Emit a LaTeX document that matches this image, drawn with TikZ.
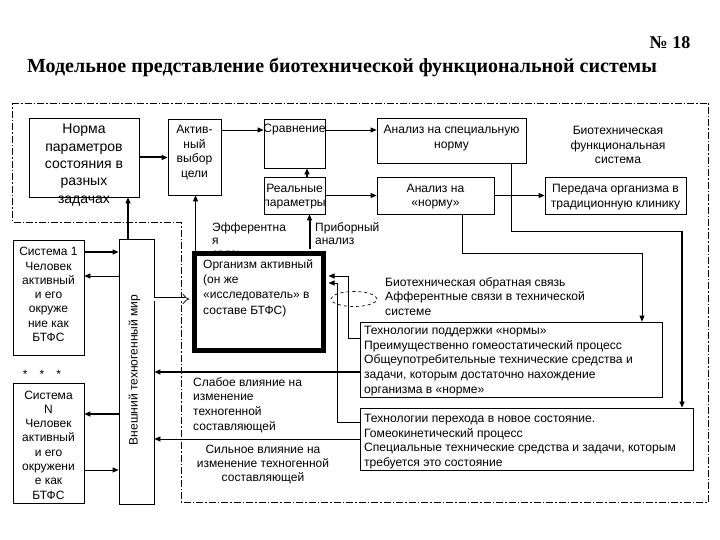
\documentclass[tikz,border=0pt]{standalone}
\usepackage{fontspec}
\setmainfont{Liberation Sans}
\newfontfamily\serifbf{Liberation Serif}
\usetikzlibrary{arrows.meta,shapes.geometric,calc}
\newcommand\fsA{\fontsize{12.1}{14.6}\selectfont}
\newcommand\fsB{\fontsize{12}{14.3}\selectfont}
\newcommand\fsC{\fontsize{14}{17.3}\selectfont}
\newcommand\fsD{\fontsize{12}{13}\selectfont}
\begin{document}
\begin{tikzpicture}[x=1pt,y=-1pt,
  box/.style={draw,line width=0.8pt,inner sep=0pt},
  tx/.style={inner sep=0pt,align=center,font=\fsA},
  txl/.style={inner sep=0pt,align=left,font=\fsA,anchor=west},
  ar/.style={-{Triangle[length=6pt,width=5pt]},line width=0.8pt},
  thk/.style={line width=2pt},
  dd/.style={line width=0.8pt,dash pattern=on 7pt off 2pt on 1.5pt off 2pt}]
\fill[white] (0,0) rectangle (720,540);
\useasboundingbox (0,0) rectangle (720,540);

% title
\node[inner sep=0pt,font=\serifbf\bfseries\fontsize{20}{23}\selectfont] (title) at (342,68) {Модельное представление биотехнической функциональной системы};
\node[inner sep=0pt,font=\serifbf\bfseries\fontsize{18}{20}\selectfont] (num) at (670,43) {№ 18};

% outer dash-dot boundary
\draw[dd] (12,103) -- (708,103) -- (708,502) -- (181,502) -- (181,222) -- (12,222) -- cycle;

% boxes
\node[box,minimum width=110,minimum height=79] (norma) at (84,157.5) {};
\node[tx,font=\fsC] (normat) at (84,165) {Норма\\параметров\\состояния в\\разных\\задачах};
\node[box,minimum width=53,minimum height=76] (aktiv) at (194.5,157) {};
\node[tx] (aktivt) at (194.5,152.5) {Актив-\\ный\\выбор\\цели};
\node[box,minimum width=61,minimum height=49] (srav) at (294.5,143.5) {};
\node[tx] (sravt) at (294.5,130) {Сравнение};
\node[box,minimum width=61,minimum height=37] (real) at (294.5,195.5) {};
\node[tx] (realt) at (294.5,196.5) {Реальные\\параметры};
\node[box,minimum width=149,minimum height=45] (anspec) at (451.5,140.5) {};
\node[tx] (anspect) at (451.5,138) {Анализ на специальную\\норму};
\node[box,minimum width=117,minimum height=37] (annorm) at (435.5,195.5) {};
\node[tx] (annormt) at (435.5,196.5) {Анализ на\\«норму»};
\node[tx] (bfs) at (618,145) {Биотехническая\\функциональная\\система};
\node[box,minimum width=141,minimum height=37] (pered) at (615.5,195.5) {};
\node[tx] (peredt) at (615.5,197) {Передача организма в\\традиционную клинику};

\node[box,minimum width=71,minimum height=115] (sys1) at (48.5,297.5) {};
\node[tx,font=\fsB] (sys1t) at (48.5,294.5) {Система 1\\Человек\\активный\\и его\\окруже\\ние как\\БТФС};
\node[tx,font=\fsB] (stars) at (42,374) {*\quad*\quad*};
\node[box,minimum width=71,minimum height=120] (sysN) at (48.5,443) {};
\node[tx,font=\fsB] (sysNt) at (48.5,445) {Система\\N\\Человек\\активный\\и его\\окружени\\е как\\БТФС};
\node[box,minimum width=35,minimum height=265] (world) at (136.5,371.5) {};
\node[tx,rotate=90] (worldt) at (134.5,370) {Внешний техногенный мир};

% efferent label (partly hidden by organism box)
\node[txl,font=\fsD] (eff) at (212,240) {Эфферентна\\я\\связь};
\node[txl,font=\fsD] (prib) at (315,233.5) {Приборный\\анализ};

% organism
\node[draw,line width=5pt,fill=white,inner sep=0pt,minimum width=129,minimum height=97] (org) at (259,302) {};
\node[txl,font=\fontsize{12}{15.3}\selectfont] (orgt) at (203,288) {Организм активный\\(он же\\«исследователь» в\\составе БТФС)};

\node[txl] (bobr) at (385,296.5) {Биотехническая обратная связь\\Афферентные связи в технической\\системе};
\node[draw,dashed,line width=0.7pt,ellipse,inner sep=0pt,minimum width=46,minimum height=15] (ell) at (354,299) {};

\node[box,minimum width=302,minimum height=75] (tech1) at (511,359.5) {};
\node[txl] (tech1t) at (364,361) {Технологии поддержки «нормы»\\Преимущественно гомеостатический процесс\\Общеупотребительные технические средства и\\задачи, которым достаточно нахождение\\организма в «норме»};
\node[box,minimum width=333,minimum height=62] (tech2) at (526.5,439) {};
\node[txl] (tech2t) at (364,441.5) {Технологии перехода в новое состояние.\\Гомеокинетический процесс\\Специальные технические средства и задачи, которым\\требуется это состояние};

\node[txl,font=\fontsize{12}{14.7}\selectfont] (slab) at (193,405) {Слабое влияние на\\изменение\\техногенной\\составляющей};
\node[tx,font=\fontsize{12}{14}\selectfont] (siln) at (263,465) {Сильное влияние на\\изменение техногенной\\составляющей};

% helper coordinates
\coordinate (orgR) at ([xshift=2.5pt]org.east);
\coordinate (orgL) at ([xshift=-2.5pt]org.west);
\coordinate (orgT) at ([yshift=2.5pt]org.north);
\coordinate (c1) at (682,231);
\coordinate (c2) at (642,253);
\coordinate (c3) at (348,276);
\coordinate (c4) at (337,283);

% connectors: left part
\draw[ar,thk] (norma.east) -- (norma.east -| aktiv.west);
\draw[ar,thk] ([xshift=-8.5pt]world.north) -- ([xshift=-8.5pt]world.north |- norma.south);
\draw[ar] ([yshift=95.5pt]world.west) -- ([yshift=95.5pt]world.west -| sys1.east);
\draw[ar,thk] ([yshift=45.5pt]sys1.east -| sys1.east) coordinate (s1o) -- (s1o -| world.west);
\draw[ar,thk] ([yshift=-42.5pt]world.west) -- ([yshift=-42.5pt]world.west -| sysN.east);
\draw[ar] ([yshift=-98.5pt]world.west -| sysN.east) coordinate (sNo) -- (sNo -| world.west);
\draw[double,double distance=3pt,line width=0.7pt,-{Implies}] ([yshift=72.5pt]world.east) -- ([yshift=72.5pt]world.east -| orgL);

% organism upward
\draw[ar] ([xshift=3.5pt]org.north west) -- ([xshift=3.5pt]org.north west |- aktiv.south);
\draw[ar,thk] ([xshift=-16.5pt]orgT -| org.north east) -- ([xshift=-16.5pt]org.north east |- real.south);
\draw[ar,thk] ([xshift=12.5pt]real.north) -- ([xshift=12.5pt]srav.south);

% top row
\draw[ar] ([yshift=27pt]aktiv.east) -- ([yshift=27pt]aktiv.east -| srav.west);
\draw[ar] ([yshift=13.5pt]srav.east) -- ([yshift=13.5pt]srav.east -| anspec.west);
\draw[ar] (real.east) -- (real.east -| annorm.west);
\draw[ar] (annorm.east) -- (annorm.east -| pered.west);

% right side feeds
\draw[line width=0.8pt] ([xshift=59.5pt]anspec.south) |- (c1);
\draw[ar,thk] (c1) -- (c1 |- tech2.north);
\draw[ar] ([xshift=26.5pt]annorm.south) |- (c2) -- (c2 |- tech1.north);

% technologies back to organism and world
\draw[ar] ([yshift=21.5pt]tech1.west) -| (c3) -- (c3 -| orgR);
\draw[ar] ([yshift=17pt]tech2.west) -| (c4) -- (c4 -| orgR);
\draw[ar,thk] ([yshift=-12.5pt]tech1.west) -- ([yshift=-12.5pt]tech1.west -| world.east);
\draw[ar] (tech2.west) -- (tech2.west -| world.east);
\end{tikzpicture}
\end{document}
